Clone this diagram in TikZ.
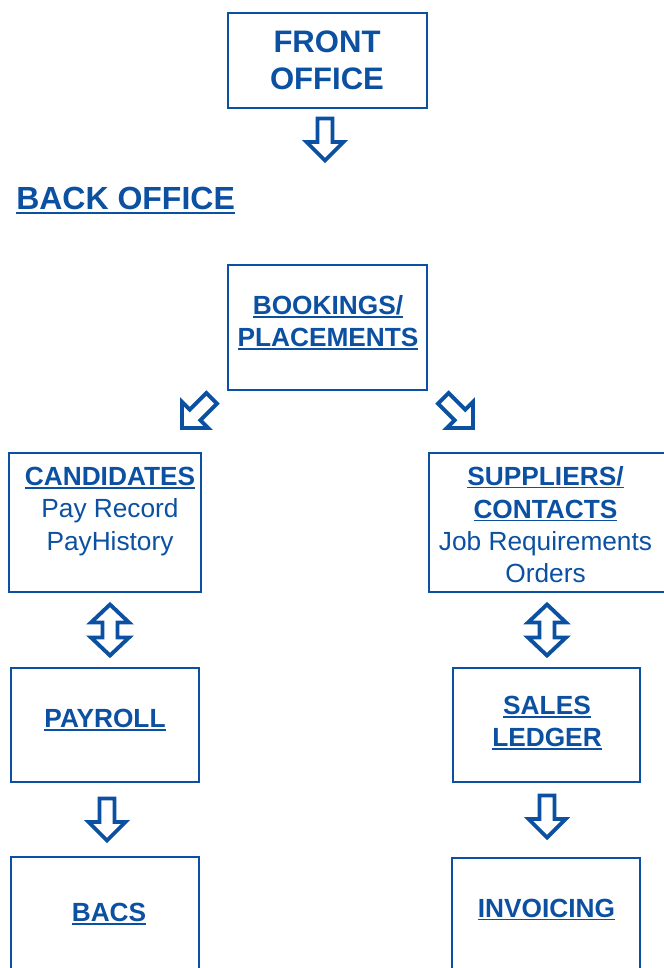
\documentclass[tikz,border=0pt]{standalone}
\usepackage{fontspec}
\setmainfont{Liberation Sans}
\usetikzlibrary{calc}
\definecolor{dblue}{RGB}{12,80,162}
\newsavebox\myulbox
\newcommand\myul[2][-2.4pt]{\sbox\myulbox{#2}\rlap{\rule[#1]{\wd\myulbox}{1.1pt}}\usebox\myulbox}
\tikzset{
  box/.style={draw=dblue, line width=1.6pt, fill=white, inner sep=0pt},
  lbl/.style={text=dblue, inner sep=0pt, anchor=base, font=\fontsize{19.7}{24}\selectfont},
  blbl/.style={lbl, font=\fontsize{19.7}{24}\selectfont\bfseries},
  arr/.style={draw=dblue, line width=2.9pt, fill=white, line join=miter},
  pics/downarrow/.style={code={
    \draw[arr] (0,0) -- (18.5,-18.5) -- (7.5,-18.5) -- (7.5,-42) -- (-7.5,-42)
      -- (-7.5,-18.5) -- (-18.5,-18.5) -- cycle;}},
  pics/dblarrow/.style={code={
    \draw[arr] (0,-25.5) -- (19,-7.5) -- (7.5,-7.5) -- (7.5,7.5) -- (19,7.5)
      -- (0,25.5) -- (-19,7.5) -- (-7.5,7.5) -- (-7.5,-7.5) -- (-19,-7.5) -- cycle;}},
}
\begin{document}
\begin{tikzpicture}[x=0.75pt, y=-0.75pt]
\useasboundingbox (0,0) rectangle (664,968);
\clip (0,0) rectangle (664,968);
\fill[white] (0,0) rectangle (664,968);

% boxes
\node[box, minimum width=149.25pt, minimum height=71.25pt] (front) at (327.5,60.5) {};
\node[box, minimum width=149.25pt, minimum height=93.75pt] (book) at (327.5,327.5) {};
\node[box, minimum width=144pt, minimum height=104.25pt] (cand) at (105,522.5) {};
\node[box, minimum width=178.5pt, minimum height=104.25pt] (supp) at (548,522.5) {};
\node[box, minimum width=141pt, minimum height=85.5pt] (pay) at (105,725) {};
\node[box, minimum width=140.25pt, minimum height=85.5pt] (sales) at (546.5,725) {};
\node[box, minimum width=141pt, minimum height=105pt] (bacs) at (105,927) {};
\node[box, minimum width=141pt, minimum height=105pt] (inv) at (546,928) {};

% texts
\node[lbl, font=\fontsize{23.3}{28}\selectfont\bfseries] (frontA) at (327,52.5) {FRONT};
\node[lbl, font=\fontsize{23.3}{28}\selectfont\bfseries] (frontB) at (327,89) {OFFICE};
\node[lbl, anchor=base west, font=\fontsize{24}{28}\selectfont\bfseries] (back) at (16,209.5) {\myul[-3pt]{BACK OFFICE}};

\node[blbl] (bookA) at (328,314.5) {\myul{BOOKINGS/}};
\node[blbl] (bookB) at (328,346.5) {\myul{PLACEMENTS}};

\node[blbl] (candA) at (110,485.5) {\myul{CANDIDATES}};
\node[lbl] (candB) at (110,517.5) {Pay Record};
\node[lbl] (candC) at (110,550) {PayHistory};

\node[blbl] (suppA) at (545.5,485) {\myul{SUPPLIERS/}};
\node[blbl] (suppB) at (545.5,518) {\myul{CONTACTS}};
\node[lbl] (suppC) at (545.5,550) {Job Requirements};
\node[lbl] (suppD) at (545.5,582) {Orders};

\node[blbl] (payA) at (105,727.5) {\myul{PAYROLL}};
\node[blbl] (salesA) at (547,714.5) {\myul{SALES}};
\node[blbl] (salesB) at (547,746.5) {\myul{LEDGER}};
\node[blbl] (bacsA) at (109,921.5) {\myul{BACS}};
\node[blbl] (invA) at (546.5,917) {\myul{INVOICING}};

% block arrows
\pic at (325,160.5) {downarrow};
\pic[rotate=-45] at (182,428) {downarrow};
\pic[rotate=45] at (473,428) {downarrow};
\pic at (110,630) {dblarrow};
\pic at (547,630) {dblarrow};
\pic at (107,840.5) {downarrow};
\pic at (547,837.5) {downarrow};
\end{tikzpicture}
\end{document}
